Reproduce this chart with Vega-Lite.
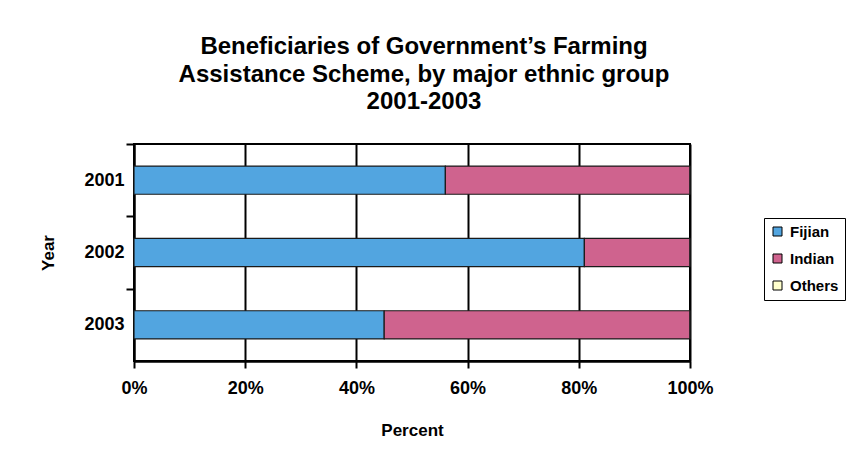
{
  "$schema": "https://vega.github.io/schema/vega-lite/v6.json",
  "width": 556,
  "height": 217,
  "autosize": {"type": "none"},
  "padding": {"left": 134, "top": 144, "right": 164, "bottom": 93},
  "background": "white",
  "title": {
    "text": ["Beneficiaries of Government’s Farming", "Assistance Scheme, by major ethnic group", "2001-2003"],
    "font": "Liberation Sans",
    "fontSize": 24,
    "fontWeight": "bold",
    "lineHeight": 27.5,
    "color": "black",
    "anchor": "middle",
    "dx": 12,
    "offset": 29
  },
  "data": {
    "values": [
      {"Year": "2001", "Group": "Fijian", "Percent": 56},
      {"Year": "2001", "Group": "Indian", "Percent": 44},
      {"Year": "2001", "Group": "Others", "Percent": 0},
      {"Year": "2002", "Group": "Fijian", "Percent": 81},
      {"Year": "2002", "Group": "Indian", "Percent": 19},
      {"Year": "2002", "Group": "Others", "Percent": 0},
      {"Year": "2003", "Group": "Fijian", "Percent": 45},
      {"Year": "2003", "Group": "Indian", "Percent": 55},
      {"Year": "2003", "Group": "Others", "Percent": 0}
    ]
  },
  "mark": {"type": "bar", "stroke": "#1a1a1a", "strokeWidth": 1.2},
  "encoding": {
    "y": {
      "field": "Year",
      "type": "nominal",
      "sort": ["2001", "2002", "2003"],
      "scale": {"paddingInner": 0.61, "paddingOuter": 0.305},
      "axis": {
        "title": "Year",
        "tickOffset": -36.2,
        "labelOffset": 36.2,
        "grid": false,
        "domainColor": "black",
        "domainWidth": 2,
        "tickColor": "black",
        "tickWidth": 2,
        "tickSize": 8,
        "labelPadding": 2,
        "labelFont": "Liberation Sans",
        "labelFontSize": 18,
        "labelFontWeight": "bold",
        "labelColor": "black",
        "titleFont": "Liberation Sans",
        "titleFontSize": 17,
        "titleFontWeight": "bold",
        "titleColor": "black",
        "titlePadding": 26
      }
    },
    "x": {
      "field": "Percent",
      "type": "quantitative",
      "stack": "normalize",
      "axis": {
        "title": "Percent",
        "values": [0, 0.2, 0.4, 0.6, 0.8, 1],
        "format": ".0%",
        "labelFlush": false,
        "grid": true,
        "gridColor": "black",
        "gridWidth": 2,
        "gridOpacity": 1,
        "domainColor": "black",
        "domainWidth": 2.5,
        "tickColor": "black",
        "tickWidth": 2,
        "tickSize": 7,
        "labelPadding": 11,
        "labelFont": "Liberation Sans",
        "labelFontSize": 18,
        "labelFontWeight": "bold",
        "labelColor": "black",
        "titleFont": "Liberation Sans",
        "titleFontSize": 17,
        "titleFontWeight": "bold",
        "titleColor": "black",
        "titlePadding": 25
      }
    },
    "color": {
      "field": "Group",
      "type": "nominal",
      "scale": {"domain": ["Fijian", "Indian", "Others"], "range": ["#52A5E0", "#CF638E", "#FFFFCC"]},
      "legend": {
        "title": null,
        "orient": "none",
        "legendX": 630,
        "legendY": 74,
        "symbolType": "square",
        "symbolSize": 81,
        "symbolStrokeColor": "black",
        "symbolStrokeWidth": 1,
        "symbolOpacity": 1,
        "labelFont": "Liberation Sans",
        "labelFontSize": 15,
        "labelFontWeight": "bold",
        "labelColor": "black",
        "labelOffset": 5,
        "rowPadding": 11,
        "padding": 6,
        "strokeColor": "black"
      }
    }
  },
  "config": {
    "view": {"stroke": "black", "strokeWidth": 2}
  }
}
